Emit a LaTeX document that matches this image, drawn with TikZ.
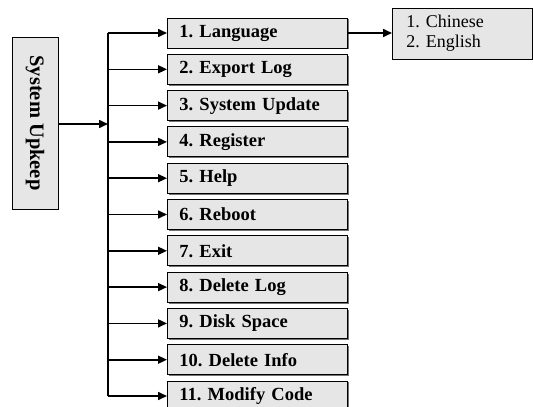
\documentclass[tikz,border=0pt]{standalone}
\usepackage{fontspec}
\setmainfont{Liberation Serif}
\usetikzlibrary{shadows,arrows.meta}
\definecolor{boxfill}{HTML}{E6E6E6}
\frenchspacing
\tikzset{
  shadowed/.style={drop shadow={shadow xshift=1.4pt,shadow yshift=-1.4pt,fill=black!55,opacity=1}},
  itembox/.style={draw=black,line width=0.9pt,fill=boxfill,shadowed,rectangle,
    minimum width=180pt,minimum height=30pt,text width=156pt,inner xsep=12pt,inner ysep=0pt,
    align=left,anchor=west,font=\fontsize{18.5}{20}\selectfont\bfseries},
  listbox/.style={draw=black,line width=0.9pt,fill=boxfill,shadowed,rectangle,
    minimum width=140pt,minimum height=51pt,text width=112pt,inner xsep=14pt,inner ysep=0pt,
    align=left,anchor=west,font=\fontsize{18}{20}\selectfont},
  mainbox/.style={draw=black,line width=0.9pt,fill=boxfill,shadowed,rectangle,
    minimum width=46pt,minimum height=172pt},
  maintext/.style={rotate=-90,font=\fontsize{20.5}{22}\selectfont\bfseries,inner sep=0pt},
  conn/.style={line width=1.6pt,draw=black},
  arr/.style={conn,-{Triangle[length=9pt,width=8pt]}}
}
\begin{document}
\begin{tikzpicture}[x=1pt,y=-1pt]
\useasboundingbox (0,0) rectangle (533,407);
\node[mainbox] (up) at (35,123) {};
\node[maintext] (upt) at (up.center) {System Upkeep};
\foreach \i/\t in {1/1. Language,2/2. Export Log,3/3. System Update,4/4. Register,5/5. Help,6/6. Reboot,7/7. Exit,8/8. Delete Log,9/9. Disk Space,10/10. Delete Info,11/11. Modify Code}{
  \node[itembox] (b\i) at (167,{33+36.3*(\i-1)}) {\t};
}
\node[listbox] (lang) at (392,33.5) {1. Chinese\\2. English};
\coordinate (bt) at (108,33);
\coordinate (bb) at (108,396);
\draw[conn] (bt) -- (bb);
\draw[arr] (up.east |- 0,124) -- (108,124);
\foreach \i in {1,...,11}{
  \draw[arr] (b\i.west -| bt) -- (b\i.west);
}
\draw[arr] (b1.east) -- (lang.west |- b1.east);
\end{tikzpicture}
\end{document}
